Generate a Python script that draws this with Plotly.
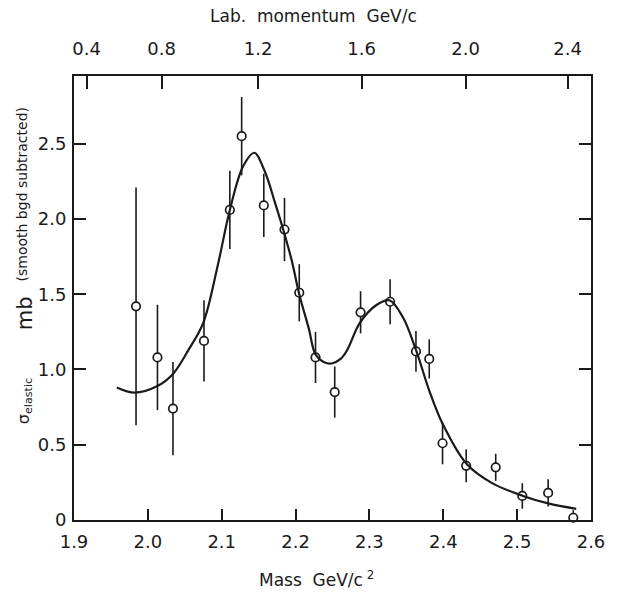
import numpy as np
import plotly.graph_objects as go

# ---- data ----
mass = [1.984, 2.013, 2.034, 2.076, 2.111, 2.127, 2.157, 2.185, 2.205, 2.227, 2.253,
        2.288, 2.328, 2.363, 2.381, 2.399, 2.431, 2.471, 2.507, 2.542, 2.576]
sigma = [1.42, 1.08, 0.74, 1.19, 2.06, 2.55, 2.09, 1.93, 1.51, 1.08, 0.85,
         1.38, 1.45, 1.12, 1.07, 0.51, 0.36, 0.35, 0.16, 0.18, 0.015]
sigma_err = [0.79, 0.35, 0.31, 0.27, 0.26, 0.26, 0.21, 0.21, 0.19, 0.17, 0.17,
             0.14, 0.15, 0.135, 0.13, 0.14, 0.11, 0.09, 0.085, 0.09, 0.05]

curve_mass = [1.958, 1.982, 2.013, 2.034, 2.055, 2.075, 2.095, 2.111, 2.129, 2.144, 2.158,
              2.172, 2.185, 2.195, 2.205, 2.218, 2.227, 2.238, 2.249, 2.261, 2.270, 2.287,
              2.310, 2.327, 2.345, 2.363, 2.381, 2.399, 2.432, 2.466, 2.508, 2.542, 2.580]
curve_sigma = [0.88, 0.846, 0.89, 0.97, 1.13, 1.31, 1.70, 2.06, 2.35, 2.44, 2.32,
               2.11, 1.90, 1.72, 1.50, 1.27, 1.10, 1.05, 1.04, 1.07, 1.13, 1.31,
               1.43, 1.46, 1.35, 1.13, 0.86, 0.64, 0.37, 0.245, 0.16, 0.11, 0.074]

mass_ticks = [1.9, 2.0, 2.1, 2.2, 2.3, 2.4, 2.5, 2.6]
mass_labels = ["1.9", "2.0", "2.1", "2.2", "2.3", "2.4", "2.5", "2.6"]
mom_ticks = [0.4, 0.8, 1.2, 1.6, 2.0, 2.4]
mom_labels = ["0.4", "0.8", "1.2", "1.6", "2.0", "2.4"]
sig_ticks = [0, 0.5, 1.0, 1.5, 2.0, 2.5]
sig_labels = ["0", "0.5", "1.0", "1.5", "2.0", "2.5"]

# lab momentum of antiproton on proton -> invariant mass
MP = 0.93827
def p_to_mass(p):
    E = np.sqrt(p ** 2 + MP ** 2)
    return float(np.sqrt(2 * MP ** 2 + 2 * MP * E))

mom_pos = [p_to_mass(p) for p in mom_ticks]

FONT = "DejaVu Sans"
INK = "#1a1a1a"

fig = go.Figure()
fig.add_trace(go.Scatter(
    x=curve_mass, y=curve_sigma, mode="lines", xaxis="x2", yaxis="y",
    line=dict(color=INK, width=2.2, shape="spline", smoothing=1.0),
    showlegend=False, hoverinfo="skip"))
fig.add_trace(go.Scatter(
    x=mass, y=sigma, mode="markers", xaxis="x", yaxis="y",
    marker=dict(size=8.5, color="white", line=dict(color=INK, width=1.7)),
    error_y=dict(type="data", array=sigma_err, visible=True, width=0,
                 thickness=1.6, color=INK),
    cliponaxis=False, showlegend=False))

axis_common = dict(showgrid=False, zeroline=False, showline=True, linecolor=INK,
                   linewidth=1.8, ticks="inside", tickcolor=INK, tickwidth=1.6,
                   tickfont=dict(family=FONT, size=18, color=INK))

fig.update_layout(
    width=617, height=592,
    margin=dict(l=74, r=20, t=76, b=71.5, pad=0),
    paper_bgcolor="white", plot_bgcolor="white",
    xaxis=dict(range=[1.9, 2.6], tickvals=mass_ticks, ticktext=mass_labels,
               ticklen=11, ticklabelstandoff=4, **axis_common),
    xaxis2=dict(range=[1.9, 2.6], overlaying="x", side="top", tickvals=mom_pos,
                ticktext=mom_labels, ticklen=13, ticklabelstandoff=12, **axis_common),
    yaxis=dict(range=[0, 2.95], tickvals=sig_ticks, ticktext=sig_labels,
               ticklen=12, mirror="ticks", ticklabelstandoff=2, **axis_common),
)

def ypx(py):
    return (520.5 - py) / 444.5

def xpx(px):
    return (px - 74) / 523

def note(text, px, py, size, angle=0):
    fig.add_annotation(text=text, xref="paper", yref="paper", x=xpx(px), y=ypx(py),
                       xanchor="center", yanchor="middle", showarrow=False,
                       textangle=angle, font=dict(family=FONT, size=size, color=INK))

note("Mass  GeV/c<sup> 2</sup>", 319, 580, 17)
note("Lab.  momentum  GeV/c", 316, 16, 17)
note("(smooth bgd subtracted)", 21, 195, 14, -90)
note("mb", 24, 314, 21, -90)
note("σ<sub>elastic</sub>", 24, 402, 16, -90)

fig.write_html("out.html")
